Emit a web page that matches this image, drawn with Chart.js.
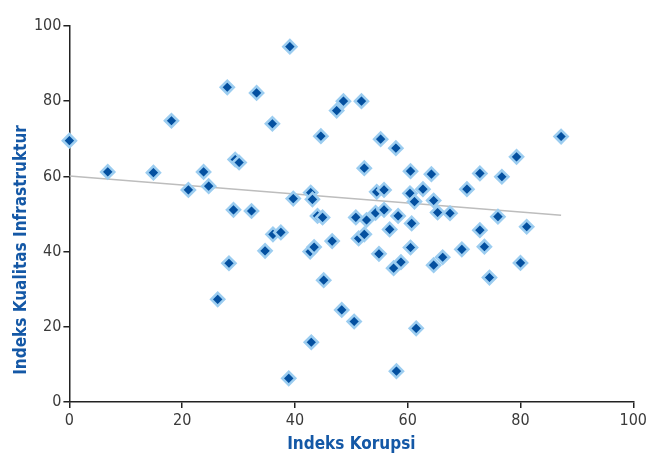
<!DOCTYPE html>
<html>
<head>
<meta charset="utf-8">
<script src="https://cdn.jsdelivr.net/npm/chart.js@4.4.0/dist/chart.umd.min.js"></script>
<style>
html,body{margin:0;padding:0;background:#fff;}
#wrap{width:650px;height:457px;position:relative;}
</style>
</head>
<body>
<div id="wrap"><canvas id="c" width="650" height="457"></canvas></div>
<script>
const corruptionIndex = [0,6.8,14.9,18.1,21.1,23.8,24.7,28.0,28.3,29.1,26.3,29.4,30.1,32.3,33.2,34.7,36.0,36.1,37.5,39.1,38.9,39.7,42.8,43.1,44.0,44.9,44.6,42.7,43.4,46.6,45.1,48.3,50.5,42.9,47.4,48.6,51.8,52.3,50.8,52.7,51.3,52.3,54.3,54.5,55.8,55.8,54.9,55.2,56.8,57.5,57.9,58.0,58.3,58.8,60.4,60.5,61.2,60.7,60.5,61.5,62.7,64.2,64.6,65.3,67.5,64.6,66.2,69.6,70.5,72.8,72.8,73.6,74.5,76.0,76.7,79.3,80.0,81.1,87.2];
const infrastructureIndex = [69.5,61.2,61.0,74.8,56.4,61.2,57.4,83.7,36.9,51.1,27.3,64.5,63.7,50.8,82.2,40.2,74.0,44.6,45.1,94.5,6.3,54.1,55.7,53.9,49.5,49.1,70.7,40.0,41.2,42.8,32.4,24.5,21.4,15.9,77.5,80.0,80.0,62.2,49.1,48.4,43.5,44.6,50.3,55.9,56.4,51.1,39.4,69.9,45.9,35.6,67.5,8.2,49.5,37.2,55.5,61.4,53.3,47.5,41.1,19.6,56.6,60.6,53.6,50.4,50.2,36.4,38.5,40.6,56.6,60.8,45.7,41.3,33.1,49.3,59.9,65.2,37.0,46.6,70.6];
const trendX = [0, 87.2];
const trendY = [60.1, 49.7];
const axisTicks = [0,20,40,60,80,100];
const xTitle = 'Indeks Korupsi';
const yTitle = 'Indeks Kualitas Infrastruktur';

const FONT = "'Liberation Sans Narrow','DejaVu Sans Condensed','Roboto Condensed','Arial Narrow',sans-serif";

const pts = corruptionIndex.map((x,i)=>({x, y: infrastructureIndex[i]}));
const trend = trendX.map((x,i)=>({x, y: trendY[i]}));

const yTitlePlugin = {
  id: 'yTitlePlugin',
  afterDraw(chart){
    const ctx = chart.ctx;
    ctx.save();
    ctx.translate(22, 250);
    ctx.rotate(-Math.PI/2);
    ctx.font = "bold 17px " + FONT;
    ctx.fillStyle = '#1458a6';
    ctx.textAlign = 'center';
    ctx.textBaseline = 'middle';
    ctx.fillText(yTitle, 0, 0);
    ctx.restore();
  }
};

new Chart(document.getElementById('c'), {
  type: 'scatter',
  data: {
    datasets: [
      {
        data: trend,
        showLine: true,
        borderColor: '#bdbdbd',
        borderWidth: 1.5,
        pointRadius: 0,
        fill: false,
        order: 2
      },
      {
        data: pts,
        clip: false,
        pointStyle: 'rectRot',
        pointRadius: 6.5,
        pointBorderWidth: 2.6,
        backgroundColor: '#0450a0',
        borderColor: '#9ccdf0',
        order: 1
      }
    ]
  },
  options: {
    responsive: false,
    animation: false,
    plugins: { legend: {display:false}, tooltip: {enabled:false} },
    layout: { padding: { top: 26, right: 14.6, left: 0, bottom: 0 } },
    scales: {
      x: {
        type: 'linear', min: 0, max: 100,
        afterBuildTicks(scale){ scale.ticks = axisTicks.map(v=>({value:v})); },
        afterFit(scale){ scale.height = 55; },
        grid: { drawOnChartArea: false, drawTicks: true, tickLength: 6, color: '#222', lineWidth: 1.5 },
        border: { display: true, color: '#222', width: 1.5 },
        ticks: { color: '#3a3a3a', font: { family: FONT, size: 16 }, padding: 3, maxRotation: 0 },
        title: { display: true, text: xTitle, color: '#1458a6', font: { family: FONT, size: 17, weight: 'bold' }, padding: { top: 0, bottom: 2 } }
      },
      y: {
        type: 'linear', min: 0, max: 100,
        afterBuildTicks(scale){ scale.ticks = axisTicks.map(v=>({value:v})); },
        afterFit(scale){ scale.width = 69.4; },
        grid: { drawOnChartArea: false, drawTicks: true, tickLength: 6, color: '#222', lineWidth: 1.5 },
        border: { display: true, color: '#222', width: 1.5 },
        ticks: { color: '#3a3a3a', font: { family: FONT, size: 16 }, padding: 2 }
      }
    }
  },
  plugins: [yTitlePlugin]
});
</script>
</body>
</html>
